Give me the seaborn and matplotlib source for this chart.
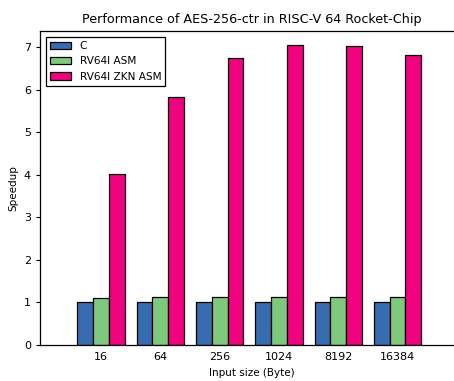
import matplotlib
matplotlib.use("Agg")
import matplotlib.pyplot as plt
import seaborn as sns
import pandas as pd

# Input sizes (bytes) and speedup relative to the C implementation
sizes = ["16", "64", "256", "1024", "8192", "16384"]
speedup_c = [1.0, 1.0, 1.0, 1.0, 1.0, 1.0]
speedup_rv64i = [1.10, 1.12, 1.12, 1.13, 1.12, 1.13]
speedup_zkn = [4.02, 5.83, 6.74, 7.05, 7.02, 6.81]

series_names = ["C", "RV64I ASM", "RV64I ZKN ASM"]
series_colors = ["#386cb0", "#7fc97f", "#f0027f"]

rows = []
for name, vals in zip(series_names, [speedup_c, speedup_rv64i, speedup_zkn]):
    for s, v in zip(sizes, vals):
        rows.append({"size": s, "impl": name, "speedup": v})
df = pd.DataFrame(rows)

sns.set_style("ticks", rc={"text.color": "black", "axes.labelcolor": "black",
                           "xtick.color": "black", "ytick.color": "black"})
plt.rcParams["font.family"] = ["DejaVu Sans"]

fig = plt.figure(figsize=(4.54, 3.81), dpi=100)
# axes run slightly past the right edge of the canvas
ax = fig.add_axes([40 / 454, 36 / 381, 424 / 454, 314 / 381])

sns.barplot(
    data=df, x="size", y="speedup", hue="impl",
    order=sizes, hue_order=series_names, palette=series_colors,
    width=0.8, edgecolor="black", linewidth=0.9, saturation=1,
    errorbar=None, ax=ax,
)

ax.set_xlim(-1.03, 6.12)
ax.set_ylim(0, 7.38)
ax.set_yticks(range(0, 8))
ax.set_title("Performance of AES-256-ctr in RISC-V 64 Rocket-Chip", fontsize=9.2)
ax.set_xlabel("Input size (Byte)", fontsize=7.5)
ax.set_ylabel("Speedup", fontsize=7.5)
ax.tick_params(axis="x", length=0, labelsize=8, pad=5)
ax.tick_params(axis="y", length=3, labelsize=8)
for sp in ax.spines.values():
    sp.set_visible(True)
    sp.set_color("black")
    sp.set_linewidth(0.9)

leg = ax.legend(loc="upper left", fontsize=7.6, frameon=True, fancybox=False,
                edgecolor="black", framealpha=1, borderaxespad=0.55)
leg.get_frame().set_linewidth(0.9)

fig.savefig("out.png", dpi=100)
